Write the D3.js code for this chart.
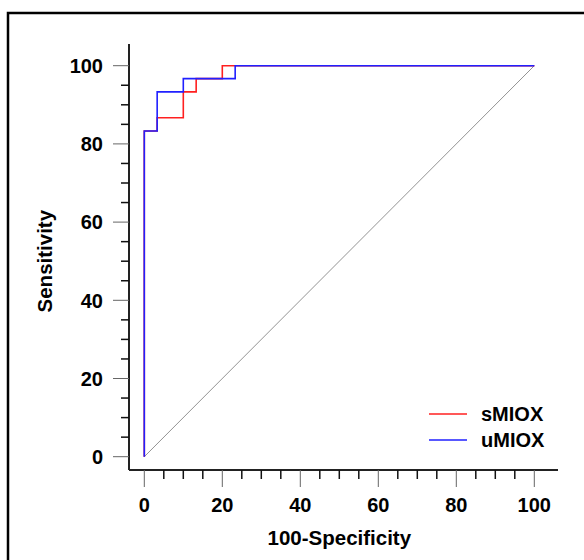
<!DOCTYPE html>
<html>
<head>
<meta charset="utf-8">
<script src="https://cdn.jsdelivr.net/npm/d3@7"></script>
<style>
  body { margin: 0; background: #fff; }
  svg { display: block; font-family: Arial, "Liberation Sans", sans-serif; }
</style>
</head>
<body>
<svg id="chart" width="584" height="560"></svg>
<script>
// ROC curves, values in percent
var seriesNames = ["sMIOX", "uMIOX"];
var seriesColors = ["#ff2020", "#2020ff"];
var sMIOX_fpr = [0, 0, 3.3, 3.3, 10, 10, 13.3, 13.3, 20, 20, 100];
var sMIOX_tpr = [0, 83.3, 83.3, 86.7, 86.7, 93.3, 93.3, 96.7, 96.7, 100, 100];
var uMIOX_fpr = [0, 0, 3.3, 3.3, 10, 10, 23.3, 23.3, 100];
var uMIOX_tpr = [0, 83.3, 83.3, 93.3, 93.3, 96.7, 96.7, 100, 100];
var majorTicks = [0, 20, 40, 60, 80, 100];
var minorTicks = d3.range(0, 101, 5).filter(function(v) { return v % 20 != 0; });

var svg = d3.select("#chart");

// frame, cut off at right and bottom like the source image
svg.append("rect")
  .attr("x", 8).attr("y", 13)
  .attr("width", 600).attr("height", 600)
  .attr("fill", "none")
  .attr("stroke", "#000")
  .attr("stroke-width", 2.5);

var x = d3.scaleLinear().domain([0, 100]).range([144.3, 534.3]);
var y = d3.scaleLinear().domain([0, 100]).range([456.7, 65.7]);

var axisX = 129, axisY = 470;

// y axis
svg.append("line")
  .attr("x1", axisX).attr("x2", axisX)
  .attr("y1", 44).attr("y2", axisY)
  .attr("stroke", "#222").attr("stroke-width", 2);
svg.selectAll(".ymaj").data(majorTicks).enter().append("line")
  .attr("x1", axisX - 16).attr("x2", axisX)
  .attr("y1", function(d) { return y(d); })
  .attr("y2", function(d) { return y(d); })
  .attr("stroke", "#666").attr("stroke-width", 1);
svg.selectAll(".ymin").data(minorTicks).enter().append("line")
  .attr("x1", axisX - 8).attr("x2", axisX)
  .attr("y1", function(d) { return y(d); })
  .attr("y2", function(d) { return y(d); })
  .attr("stroke", "#111").attr("stroke-width", 1.5);
svg.selectAll(".ylab").data(majorTicks).enter().append("text")
  .attr("x", 103)
  .attr("y", function(d) { return y(d); })
  .attr("dy", "0.36em")
  .attr("text-anchor", "end")
  .attr("font-size", 20).attr("font-weight", "bold")
  .text(function(d) { return d; });

// x axis
svg.append("line")
  .attr("x1", axisX).attr("x2", 558)
  .attr("y1", axisY).attr("y2", axisY)
  .attr("stroke", "#222").attr("stroke-width", 2);
svg.selectAll(".xmaj").data(majorTicks).enter().append("line")
  .attr("x1", function(d) { return x(d); })
  .attr("x2", function(d) { return x(d); })
  .attr("y1", axisY).attr("y2", axisY + 17)
  .attr("stroke", "#666").attr("stroke-width", 1);
svg.selectAll(".xmin").data(minorTicks).enter().append("line")
  .attr("x1", function(d) { return x(d); })
  .attr("x2", function(d) { return x(d); })
  .attr("y1", axisY).attr("y2", axisY + 9)
  .attr("stroke", "#111").attr("stroke-width", 1.5);
svg.selectAll(".xlab").data(majorTicks).enter().append("text")
  .attr("x", function(d) { return x(d); })
  .attr("y", 512)
  .attr("text-anchor", "middle")
  .attr("font-size", 20).attr("font-weight", "bold")
  .text(function(d) { return d; });

// axis titles
svg.append("text")
  .attr("x", x(50)).attr("y", 545)
  .attr("text-anchor", "middle")
  .attr("font-size", 20.5).attr("font-weight", "bold")
  .text("100-Specificity");
svg.append("text")
  .attr("transform", "translate(52," + y(50) + ") rotate(-90)")
  .attr("text-anchor", "middle")
  .attr("font-size", 20.5).attr("font-weight", "bold")
  .text("Sensitivity");

// reference diagonal
svg.append("line")
  .attr("x1", x(0)).attr("y1", y(0))
  .attr("x2", x(100)).attr("y2", y(100))
  .attr("stroke", "#777").attr("stroke-width", 0.8);

var line = d3.line()
  .x(function(d) { return x(d[0]); })
  .y(function(d) { return y(d[1]); });

var curves = [d3.zip(sMIOX_fpr, sMIOX_tpr), d3.zip(uMIOX_fpr, uMIOX_tpr)];
svg.selectAll(".roc").data(curves).enter().append("path")
  .attr("d", line)
  .attr("fill", "none")
  .attr("stroke", function(d, i) { return seriesColors[i]; })
  .attr("stroke-width", 1.6);

// legend
var legend = svg.selectAll(".leg").data(seriesNames).enter().append("g")
  .attr("transform", function(d, i) { return "translate(429," + (414 + i * 26) + ")"; });
legend.append("line")
  .attr("x1", 0).attr("x2", 38)
  .attr("stroke", function(d, i) { return seriesColors[i]; })
  .attr("stroke-width", 1.6);
legend.append("text")
  .attr("x", 52).attr("dy", "0.36em")
  .attr("font-size", 20).attr("font-weight", "bold")
  .text(function(d) { return d; });
</script>
</body>
</html>
